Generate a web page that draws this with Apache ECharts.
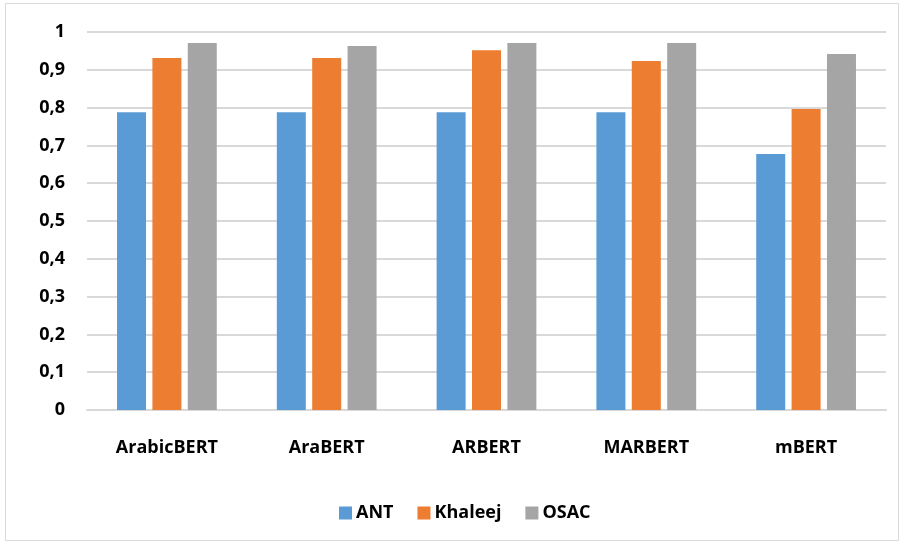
<!DOCTYPE html>
<html>
<head>
<meta charset="utf-8">
<script src="https://cdn.jsdelivr.net/npm/echarts@6/dist/echarts.min.js"></script>
<style>
  html, body { margin: 0; padding: 0; background: #fff; }
  #chart { width: 904px; height: 544px; }
</style>
</head>
<body>
<div id="chart"></div>
<script>
// Model names along the x axis
const categories = ['ArabicBERT', 'AraBERT', 'ARBERT', 'MARBERT', 'mBERT'];
// Scores per dataset
const antValues = [0.788, 0.788, 0.788, 0.788, 0.677];
const khaleejValues = [0.931, 0.931, 0.952, 0.923, 0.796];
const osacValues = [0.971, 0.963, 0.971, 0.971, 0.942];
const seriesNames = ['ANT', 'Khaleej', 'OSAC'];

const FONT = '"Open Sans", Lato, sans-serif';
const chart = echarts.init(document.getElementById('chart'));

function bar(name, data, color) {
  return {
    name: name,
    type: 'bar',
    data: data,
    barWidth: 29,
    barGap: '22%',
    itemStyle: { color: color },
    emphasis: { disabled: true }
  };
}

chart.setOption({
  animation: false,
  textStyle: { fontFamily: FONT },
  graphic: [{
    type: 'rect',
    shape: { x: 5.5, y: 3.5, width: 893, height: 537 },
    style: { fill: 'none', stroke: '#d9d9d9', lineWidth: 1 },
    silent: true
  }],
  grid: { left: 87, right: 18, top: 32, bottom: 134 },
  legend: {
    bottom: 17,
    left: 334,
    itemWidth: 13,
    itemHeight: 13,
    itemGap: 24,
    icon: 'rect',
    textStyle: { fontFamily: FONT, fontWeight: 'bold', fontSize: 18, color: '#000', padding: [0, 0, 0, -1] },
    data: seriesNames
  },
  xAxis: {
    type: 'category',
    data: categories,
    axisLine: { lineStyle: { color: '#d9d9d9', width: 2 } },
    axisTick: { show: false },
    axisLabel: { fontFamily: FONT, fontWeight: 'bold', fontSize: 18, color: '#000', margin: 29 }
  },
  yAxis: {
    type: 'value',
    min: 0,
    max: 1,
    interval: 0.1,
    axisLine: { show: false },
    axisTick: { show: false },
    splitLine: { lineStyle: { color: '#d9d9d9', width: 2 } },
    axisLabel: {
      fontFamily: FONT, fontWeight: 'bold', fontSize: 18, color: '#000', margin: 22,
      formatter: v => (Math.round(v * 10) / 10).toString().replace('.', ',')
    }
  },
  series: [
    bar(seriesNames[0], antValues, '#5b9bd5'),
    bar(seriesNames[1], khaleejValues, '#ed7d31'),
    bar(seriesNames[2], osacValues, '#a5a5a5')
  ]
});
</script>
</body>
</html>
